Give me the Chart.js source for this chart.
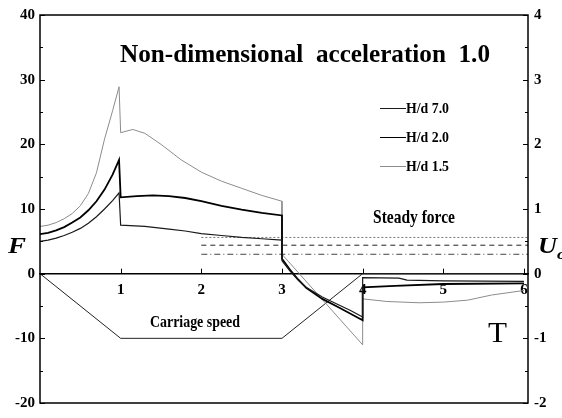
<!DOCTYPE html>
<html>
<head>
<meta charset="utf-8">
<script src="https://cdn.jsdelivr.net/npm/chart.js"></script>
<style>
  html, body { margin: 0; padding: 0; background: #fff; }
  canvas { display: block; }
</style>
</head>
<body>
<canvas id="chart" width="562" height="418"></canvas>
<script>
// force curves, F against non-dimensional time T
const tHd15 = [0, 0.1, 0.2, 0.3, 0.4, 0.5, 0.6, 0.7, 0.8, 0.9, 0.98, 1.0, 1.15, 1.3, 1.5, 1.75, 2.0, 2.25, 2.5, 2.75, 3.0,
  3.0, 4.0, 4.0, 4.3, 4.7, 5.0, 5.3, 5.6, 6.0];
const fHd15 = [7.3, 7.5, 7.9, 8.5, 9.3, 10.5, 12.4, 15.6, 20.8, 25.2, 28.9, 21.8, 22.3, 21.7, 20.0, 17.6, 15.7, 14.3, 13.2, 12.1, 11.2,
  3.0, -11.0, -3.9, -4.3, -4.5, -4.4, -4.1, -3.3, -2.6];

const tHd20 = [0, 0.1, 0.2, 0.3, 0.4, 0.5, 0.6, 0.7, 0.8, 0.9, 0.98, 1.0, 1.2, 1.4, 1.6, 1.8, 2.0, 2.25, 2.5, 2.75, 3.0,
  3.0, 3.1, 3.2, 3.3, 3.5, 3.7, 3.85, 4.0, 4.0, 4.4, 5.0, 6.0];
const fHd20 = [6.1, 6.3, 6.7, 7.2, 7.9, 8.7, 9.8, 11.2, 13.0, 15.3, 17.6, 11.8, 12.0, 12.1, 12.0, 11.7, 11.2, 10.5, 9.9, 9.4, 9.0,
  2.3, 0.6, -0.9, -2.2, -3.9, -5.2, -6.2, -7.2, -2.1, -1.9, -1.6, -1.5];

const tHd70 = [0, 0.1, 0.2, 0.3, 0.4, 0.5, 0.6, 0.7, 0.8, 0.9, 0.98, 1.0, 1.3, 1.6, 1.8, 2.0, 2.25, 2.5, 2.75, 3.0,
  3.0, 3.1, 3.2, 3.3, 3.5, 3.7, 3.85, 4.0, 4.0, 4.45, 4.55, 5.0, 6.0];
const fHd70 = [5.0, 5.2, 5.5, 5.9, 6.4, 7.0, 7.8, 8.8, 10.0, 11.3, 12.5, 7.5, 7.3, 6.9, 6.6, 6.2, 5.9, 5.6, 5.4, 5.2,
  2.0, 0.4, -1.0, -2.1, -3.6, -4.8, -5.7, -6.7, -0.6, -0.7, -1.0, -1.1, -1.2];

// carriage speed, U0 on the right axis
const tSpeed = [0, 1, 3, 4, 6];
const uSpeed = [0, -1, -1, 0, 0];

// steady force levels
const tSteady = [2, 6.05];
const steadyHd15 = 5.6;
const steadyHd20 = 4.4;
const steadyHd70 = 3.0;

const seriesNames = ['H/d 7.0', 'H/d 2.0', 'H/d 1.5'];
const leftTicks = [-20, -10, 0, 10, 20, 30, 40];
const rightTicks = [-2, -1, 0, 1, 2, 3, 4];
const timeTicks = [0, 1, 2, 3, 4, 5, 6];

const serif = '"Liberation Serif", "Times New Roman", serif';
const toPoints = (xs, ys) => xs.map((x, i) => ({ x, y: ys[i] }));
const flat = (xs, v) => xs.map(x => ({ x, y: v }));

const fitText = (ctx, text, x, y, width, font) => {
  ctx.save();
  ctx.font = font;
  ctx.textAlign = 'left';
  ctx.textBaseline = 'alphabetic';
  const w = ctx.measureText(text).width;
  ctx.translate(x, y);
  ctx.scale(width / w, 1);
  ctx.fillText(text, 0, 0);
  ctx.restore();
};

const framePlugin = {
  id: 'frame',
  afterDraw(chart) {
    const { ctx, chartArea: a, scales } = chart;
    ctx.save();
    ctx.strokeStyle = '#000';
    ctx.lineWidth = 1.5;
    ctx.strokeRect(a.left, a.top, a.right - a.left, a.bottom - a.top);

    ctx.lineWidth = 1;
    for (let v = -20; v <= 40; v += 5) {
      const y = Math.round(scales.y.getPixelForValue(v)) + 0.5;
      const len = v % 10 === 0 ? 5 : 3;
      ctx.beginPath();
      ctx.moveTo(a.left, y);
      ctx.lineTo(a.left + len, y);
      ctx.stroke();
    }
    for (let v = -2; v <= 4; v += 0.5) {
      const y = Math.round(scales.y2.getPixelForValue(v)) + 0.5;
      const len = Number.isInteger(v) ? 5 : 3;
      ctx.beginPath();
      ctx.moveTo(a.right, y);
      ctx.lineTo(a.right - len, y);
      ctx.stroke();
    }
    const y0 = scales.y.getPixelForValue(0);
    for (let t = 1; t <= 6; t++) {
      const x = Math.round(scales.x.getPixelForValue(t)) + 0.5;
      ctx.beginPath();
      ctx.moveTo(x, y0);
      ctx.lineTo(x, y0 - 5);
      ctx.stroke();
    }
    ctx.restore();
  }
};

const notesPlugin = {
  id: 'notes',
  afterDraw(chart) {
    const ctx = chart.ctx;
    ctx.save();
    ctx.fillStyle = '#000';
    fitText(ctx, 'Non-dimensional  acceleration  1.0', 120, 62, 370, `bold 26px ${serif}`);
    fitText(ctx, 'Steady force', 373, 223, 82, `bold 19px ${serif}`);
    fitText(ctx, 'Carriage speed', 150, 327, 90, `bold 17px ${serif}`);
    fitText(ctx, 'T', 488, 342, 19, `29px ${serif}`);
    fitText(ctx, 'F', 8, 253, 18, `bold italic 23px ${serif}`);
    fitText(ctx, 'U', 538, 253, 19, `bold italic 23px ${serif}`);
    fitText(ctx, 'o', 557, 259, 9, `bold italic 15px ${serif}`);

    // legend
    const rows = [108, 137, 166];
    const sets = chart.data.datasets;
    rows.forEach((y, i) => {
      ctx.strokeStyle = sets[i].borderColor;
      ctx.lineWidth = 1;
      ctx.beginPath();
      ctx.moveTo(380, y + 0.5);
      ctx.lineTo(406, y + 0.5);
      ctx.stroke();
      fitText(ctx, seriesNames[i], 406, y + 5, 43, `bold 14px ${serif}`);
    });
    ctx.restore();
  }
};

const lineSet = (label, data, color, width, extra = {}) => ({
  label, data,
  borderColor: color,
  borderWidth: width,
  pointRadius: 0,
  tension: 0,
  fill: false,
  ...extra
});

new Chart(document.getElementById('chart'), {
  type: 'line',
  data: {
    datasets: [
      lineSet(seriesNames[0], toPoints(tHd70, fHd70), '#1a1a1a', 1.2),
      lineSet(seriesNames[1], toPoints(tHd20, fHd20), '#000', 1.8),
      lineSet(seriesNames[2], toPoints(tHd15, fHd15), '#8c8c8c', 1),
      lineSet('Carriage speed', toPoints(tSpeed, uSpeed), '#222', 1, { yAxisID: 'y2' }),
      lineSet('Steady 1.5', flat(tSteady, steadyHd15), '#777', 1, { borderDash: [2, 2] }),
      lineSet('Steady 2.0', flat(tSteady, steadyHd20), '#222', 1, { borderDash: [5, 4] }),
      lineSet('Steady 7.0', flat(tSteady, steadyHd70), '#444', 1, { borderDash: [6, 3, 1, 3] })
    ]
  },
  options: {
    responsive: false,
    animation: false,
    layout: { padding: { top: 14, bottom: 11, left: 0, right: 0 } },
    plugins: {
      legend: { display: false },
      tooltip: { enabled: false }
    },
    scales: {
      x: {
        type: 'linear',
        position: { y: 0 },
        min: 0,
        max: 6.05,
        afterBuildTicks: s => { s.ticks = timeTicks.map(value => ({ value })); },
        grid: { display: false, drawTicks: false },
        border: { display: true, color: '#000', width: 1.5 },
        ticks: {
          padding: 7,
          color: '#000',
          font: { family: serif, size: 15, weight: 'bold' },
          callback: v => (v === 0 ? '' : String(v))
        }
      },
      y: {
        position: 'left',
        min: -20,
        max: 40,
        afterBuildTicks: s => { s.ticks = leftTicks.map(value => ({ value })); },
        afterFit: s => { s.width = 40; },
        grid: { display: false, drawTicks: false },
        border: { display: false },
        ticks: {
          padding: 5,
          color: '#000',
          font: { family: serif, size: 15, weight: 'bold' }
        }
      },
      y2: {
        position: 'right',
        min: -2,
        max: 4,
        afterBuildTicks: s => { s.ticks = rightTicks.map(value => ({ value })); },
        afterFit: s => { s.width = 34; },
        grid: { display: false, drawTicks: false },
        border: { display: false },
        ticks: {
          padding: 6,
          color: '#000',
          font: { family: serif, size: 15, weight: 'bold' }
        }
      }
    }
  },
  plugins: [framePlugin, notesPlugin]
});
</script>
</body>
</html>
